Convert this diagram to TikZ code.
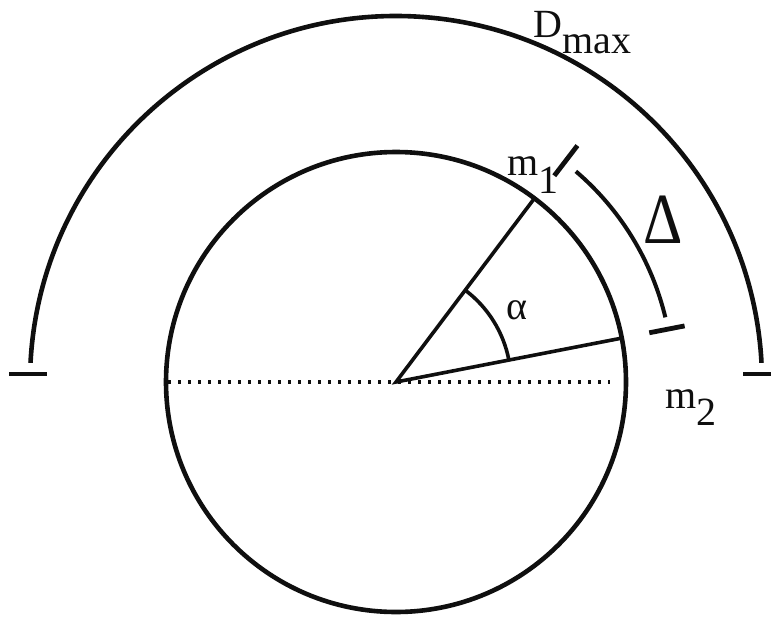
\documentclass[tikz,border=0pt]{standalone}
\usepackage{fontspec}
\setmainfont{Liberation Serif}
\usetikzlibrary{positioning,calc}
\definecolor{inkclr}{RGB}{15,15,15}

\begin{document}
\begin{tikzpicture}[x=0.5pt,y=0.5pt,
    lbl/.style={inner sep=0pt, anchor=base west, font=\fontsize{20}{22}\selectfont, text=inkclr},
    rim/.style={draw=inkclr, line width=2.3pt},
    ray/.style={draw=inkclr, line width=1.8pt},
    endtick/.style={draw=inkclr, line width=2.4pt}]
    \useasboundingbox (0,0) rectangle (771,618);
    \coordinate (C) at (396,236);
    % circle, rays and angle
    \draw[rim] (C) circle[radius=230];
    \coordinate (M1) at ($(C)+(53:230)$);
    \coordinate (M2) at ($(C)+(11:230)$);
    \draw[ray] (M1) -- (C) -- (M2);
    \draw[ray] ($(C)+(11:115)$) arc[start angle=11, end angle=53, radius=115];
    \coordinate (L) at (168,236);
    \coordinate (R) at (610,236);
    \draw[inkclr, line width=1.7pt, dash pattern=on 1.7pt off 3.3pt] (L) -- (R);
    % outer span
    \draw[rim] ($(C)+(177:366)$) arc[start angle=177, end angle=3, radius=366];
    \coordinate (TL1) at (9,244);
    \coordinate (TL2) at (47,244);
    \coordinate (TR1) at (743,244);
    \coordinate (TR2) at (771,244);
    \draw[endtick] (TL1) -- (TL2);
    \draw[endtick] (TR1) -- (TR2);
    % delta span
    \draw[rim, line width=2pt] ($(C)+(49.5:277)$) arc[start angle=49.5, end angle=13.5, radius=277];
    \draw[endtick] ($(C)+(52.5:260)$) -- ($(C)+(52.5:298)$);
    \draw[endtick] ($(C)+(11:258)$) -- ($(C)+(11:294)$);
    % labels
    \node[lbl] (dmax) at (533,581) {D\raisebox{-8pt}{max}};
    \node[lbl] (m1) at (507,443) {m\raisebox{-9pt}{1}};
    \node[lbl] (m2) at (665,210) {m\raisebox{-8.5pt}{2}};
    \node[lbl, anchor=center] (alpha) at (517,308) {α};
    \node[lbl, anchor=center, font=\fontsize{36}{38}\selectfont, xscale=0.85] (delta) at (663,398) {Δ};
\end{tikzpicture}
\end{document}
